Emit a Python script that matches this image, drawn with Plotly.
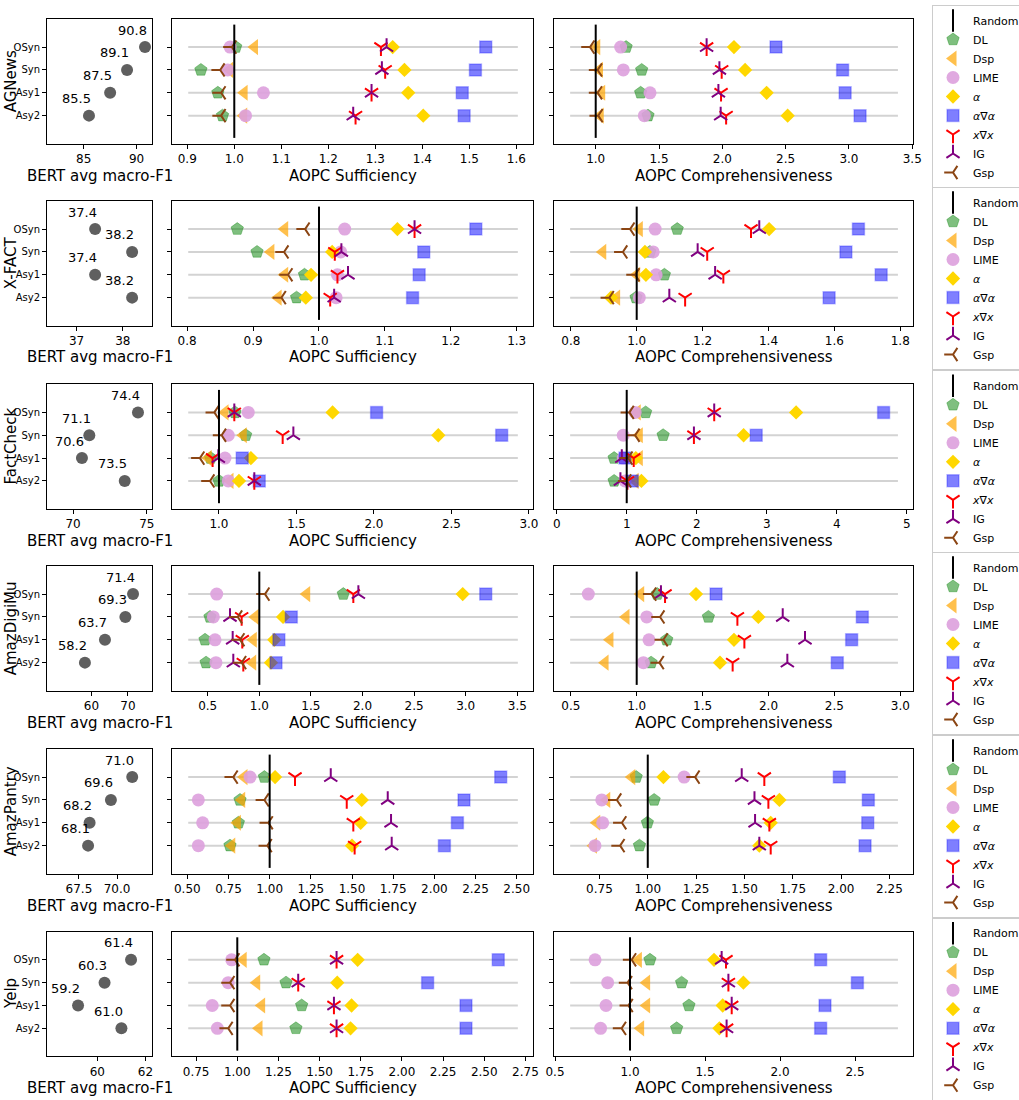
import plotly.graph_objects as go

# ---------------- data ----------------
DATASETS = ["AGNews", "X-FACT", "FactCheck", "AmazDigiMu", "AmazPantry", "Yelp"]
CONFIGS = ["OSyn", "Syn", "Asy1", "Asy2"]
METHODS = ["DL", "Dsp", "LIME", "α", "α∇α", "x∇x", "IG", "Gsp"]

F1_AGNEWS = [90.8, 89.1, 87.5, 85.5]
F1_XFACT = [37.4, 38.2, 37.4, 38.2]
F1_FACTCHECK = [74.4, 71.1, 70.6, 73.5]
F1_AMAZDIGIMU = [71.4, 69.3, 63.7, 58.2]
F1_AMAZPANTRY = [71.0, 69.6, 68.2, 68.1]
F1_YELP = [61.4, 60.3, 59.2, 61.0]

F1_TICKS = [[85, 90], [37, 38], [70, 75], [60, 70], [67.5, 70.0], [60, 62]]
F1_TICKTEXT = [["85", "90"], ["37", "38"], ["70", "75"], ["60", "70"], ["67.5", "70.0"], ["60", "62"]]

# values per method, order OSyn, Syn, Asy1, Asy2
AGNEWS_SUFF = {
    "DL": [1.003, 0.929, 0.965, 0.975], "Dsp": [1.043, 0.99, 1.021, 1.02],
    "LIME": [0.991, 0.986, 1.062, 1.024], "α": [1.337, 1.362, 1.370, 1.402],
    "α∇α": [1.535, 1.513, 1.485, 1.489], "x∇x": [1.312, 1.321, 1.292, 1.258],
    "IG": [1.324, 1.314, 1.292, 1.253], "Gsp": [0.995, 0.970, 0.972, 0.972]}
AGNEWS_COMP = {
    "DL": [1.24, 1.363, 1.355, 1.413], "Dsp": [1.008, 1.03, 1.047, 1.036],
    "LIME": [1.197, 1.218, 1.429, 1.384], "α": [2.092, 2.18, 2.35, 2.516],
    "α∇α": [2.424, 2.95, 2.97, 3.088], "x∇x": [1.876, 1.995, 1.99, 2.03],
    "IG": [1.876, 1.977, 1.969, 1.987], "Gsp": [0.955, 1.015, 1.015, 1.02]}
XFACT_SUFF = {
    "DL": [0.876, 0.906, 0.978, 0.966], "Dsp": [0.948, 0.927, 0.948, 0.938],
    "LIME": [1.039, 1.033, 1.028, 1.026], "α": [1.119, 1.020, 0.988, 0.980],
    "α∇α": [1.238, 1.159, 1.152, 1.142], "x∇x": [1.145, 1.024, 1.028, 1.017],
    "IG": [1.145, 1.034, 1.044, 1.023], "Gsp": [0.979, 0.947, 0.953, 0.943]}
XFACT_COMP = {
    "DL": [1.123, 1.04, 1.084, 0.998], "Dsp": [1.008, 0.897, 1.0, 0.939],
    "LIME": [1.056, 1.050, 1.059, 1.008], "α": [1.402, 1.025, 1.028, 0.922],
    "α∇α": [1.673, 1.635, 1.742, 1.584], "x∇x": [1.347, 1.214, 1.263, 1.147],
    "IG": [1.372, 1.185, 1.238, 1.099], "Gsp": [0.980, 0.958, 0.995, 0.917]}
FACTCHECK_SUFF = {
    "DL": [1.103, 1.172, 0.946, 1.0], "Dsp": [1.039, 1.157, 0.931, 1.071],
    "LIME": [1.189, 1.060, 1.039, 1.06], "α": [1.733, 2.415, 1.206, 1.129],
    "α∇α": [2.017, 2.824, 1.150, 1.260], "x∇x": [1.099, 1.411, 0.959, 1.228],
    "IG": [1.099, 1.480, 0.996, 1.228], "Gsp": [0.970, 1.017, 0.877, 0.942]}
FACTCHECK_COMP = {
    "DL": [1.27, 1.52, 0.82, 0.82], "Dsp": [1.15, 1.18, 1.18, 1.12],
    "LIME": [1.12, 0.95, 0.95, 0.976], "α": [3.42, 2.67, 1.13, 1.21],
    "α∇α": [4.67, 2.85, 0.976, 1.08], "x∇x": [2.25, 1.96, 1.10, 1.01],
    "IG": [2.25, 1.96, 0.93, 0.91], "Gsp": [1.038, 1.12, 1.02, 1.0]}
AMAZDIGIMU_SUFF = {
    "DL": [1.814, 0.522, 0.474, 0.484], "Dsp": [1.459, 0.961, 0.942, 0.936],
    "LIME": [0.587, 0.555, 0.571, 0.58], "α": [2.971, 1.230, 1.145, 1.113],
    "α∇α": [3.194, 1.310, 1.190, 1.162], "x∇x": [1.911, 0.829, 0.835, 0.845],
    "IG": [1.960, 0.716, 0.742, 0.748], "Gsp": [1.055, 0.791, 0.813, 0.829]}
AMAZDIGIMU_COMP = {
    "DL": [1.156, 1.544, 1.228, 1.109], "Dsp": [1.030, 0.919, 0.797, 0.760],
    "LIME": [0.633, 1.076, 1.093, 1.051], "α": [1.450, 1.923, 1.738, 1.632],
    "α∇α": [1.602, 2.712, 2.631, 2.522], "x∇x": [1.215, 1.764, 1.817, 1.728],
    "IG": [1.184, 2.108, 2.277, 2.143], "Gsp": [1.114, 1.177, 1.202, 1.172]}
AMAZPANTRY_SUFF = {
    "DL": [0.968, 0.820, 0.810, 0.759], "Dsp": [0.844, 0.830, 0.804, 0.770],
    "LIME": [0.881, 0.567, 0.593, 0.567], "α": [1.033, 1.559, 1.553, 1.500],
    "α∇α": [2.403, 2.180, 2.140, 2.061], "x∇x": [1.154, 1.468, 1.508, 1.516],
    "IG": [1.371, 1.717, 1.737, 1.741], "Gsp": [0.779, 0.968, 0.992, 0.986]}
AMAZPANTRY_COMP = {
    "DL": [0.94, 1.033, 0.998, 0.957], "Dsp": [0.917, 0.788, 0.736, 0.719],
    "LIME": [1.188, 0.762, 0.767, 0.727], "α": [1.081, 1.681, 1.636, 1.577],
    "α∇α": [1.991, 2.141, 2.138, 2.124], "x∇x": [1.603, 1.624, 1.629, 1.636],
    "IG": [1.486, 1.552, 1.555, 1.577], "Gsp": [1.245, 0.840, 0.866, 0.857]}
YELP_SUFF = {
    "DL": [1.162, 1.296, 1.391, 1.356], "Dsp": [1.036, 1.118, 1.148, 1.132],
    "LIME": [0.966, 0.945, 0.848, 0.879], "α": [1.731, 1.607, 1.694, 1.688],
    "α∇α": [2.585, 2.156, 2.389, 2.389], "x∇x": [1.603, 1.370, 1.587, 1.603],
    "IG": [1.603, 1.370, 1.587, 1.603], "Gsp": [0.986, 0.956, 0.956, 0.945]}
YELP_COMP = {
    "DL": [1.133, 1.344, 1.393, 1.311], "Dsp": [1.056, 1.111, 1.111, 1.071],
    "LIME": [0.767, 0.851, 0.84, 0.804], "α": [1.56, 1.756, 1.618, 1.596],
    "α∇α": [2.271, 2.516, 2.30, 2.271], "x∇x": [1.64, 1.656, 1.678, 1.644],
    "IG": [1.611, 1.656, 1.678, 1.644], "Gsp": [1.011, 0.984, 0.989, 0.944]}

F1_ALL = [F1_AGNEWS, F1_XFACT, F1_FACTCHECK, F1_AMAZDIGIMU, F1_AMAZPANTRY, F1_YELP]
SUFF_ALL = [AGNEWS_SUFF, XFACT_SUFF, FACTCHECK_SUFF, AMAZDIGIMU_SUFF, AMAZPANTRY_SUFF, YELP_SUFF]
COMP_ALL = [AGNEWS_COMP, XFACT_COMP, FACTCHECK_COMP, AMAZDIGIMU_COMP, AMAZPANTRY_COMP, YELP_COMP]

# ---------------- styling / layout ----------------
W, H = 1019, 1100
def px(x): return x / W
def py(y): return 1 - y / H

COLS = [(47, 152), (172, 533), (554, 913)]
ROW_TOPS = [19, 201, 384.3, 566, 749, 931.7]
ROW_H = 124.5

F1_RANGES = [[81.53, 91.46], [36.36, 38.63], [68.23, 75.35], [47.8, 76.6], [65.4, 72.3], [57.91, 62.27]]
SUFF_RANGES = [[0.8675, 1.6355], [0.777, 1.3247], [0.697, 3.026], [0.154, 3.652], [0.407, 2.599], [0.6035, 2.796]]
COMP_RANGES = [[0.6706, 3.506], [0.749, 1.8386], [-0.039, 5.09], [0.3725, 3.0964], [0.515, 2.372], [0.4933, 2.8867]]
SUFF_DTICK = [(0.1, ".1f"), (0.1, ".1f"), (0.5, ".1f"), (0.5, ".1f"), (0.25, ".2f"), (0.25, ".2f")]
COMP_DTICK = [(0.5, ".1f"), (0.2, ".1f"), (1, "d"), (0.5, ".1f"), (0.25, ".2f"), (0.5, ".1f")]

YPOS = [3, 2, 1, 0]
STYLE = {
    "DL": dict(symbol="pentagon", size=13, color="rgba(0,128,0,0.5)", line=dict(width=1, color="rgba(0,128,0,0.35)")),
    "Dsp": dict(symbol="triangle-left", size=14, color="rgba(255,165,0,0.7)", line=dict(width=0)),
    "LIME": dict(symbol="circle", size=13, color="rgba(221,160,221,0.9)", line=dict(width=0)),
    "α": dict(symbol="diamond", size=11, color="#FFD700", line=dict(width=0)),
    "α∇α": dict(symbol="square", size=12, color="rgba(0,0,255,0.5)", line=dict(width=1.5, color="rgba(0,0,255,0.25)")),
    "x∇x": dict(symbol="y-down", size=11, line=dict(width=2, color="red")),
    "IG": dict(symbol="y-up", size=11, line=dict(width=2, color="purple")),
    "Gsp": dict(symbol="y-left", size=11, line=dict(width=2, color="#8B4513")),
}
LABELS = {"DL": "DL", "Dsp": "Dsp", "LIME": "LIME", "α": "<i>α</i>", "α∇α": "<i>α</i>∇<i>α</i>",
          "x∇x": "<i>x</i>∇<i>x</i>", "IG": "IG", "Gsp": "Gsp"}

FONT = "DejaVu Sans"
fig = go.Figure()
layout = dict(width=W, height=H, margin=dict(l=0, r=0, t=0, b=0, autoexpand=False),
              paper_bgcolor="white", plot_bgcolor="white", font=dict(family=FONT, color="black"))
shapes, annotations = [], []
XTITLES = ["BERT avg macro-F1", "AOPC Sufficiency", "AOPC Comprehensiveness"]

for r in range(6):
    top = ROW_TOPS[r]
    bot = top + ROW_H
    legname = "legend" if r == 0 else f"legend{r + 1}"
    for c in range(3):
        k = r * 3 + c + 1
        xs = "" if k == 1 else str(k)
        xa, ya = "xaxis" + xs, "yaxis" + xs
        xr, yr = "x" + xs, "y" + xs
        xaxis = dict(domain=[px(COLS[c][0]), px(COLS[c][1])], anchor=yr, showline=True, mirror=True,
                     linecolor="black", linewidth=1, ticks="outside", ticklen=4, tickcolor="black",
                     showgrid=False, zeroline=False, tickfont=dict(size=12, family=FONT))
        yaxis = dict(domain=[py(bot), py(top)], anchor=xr, range=[-1.22, 4.23], showline=True, mirror=True,
                     linecolor="black", linewidth=1, ticks="outside", ticklen=4, tickcolor="black",
                     showgrid=False, zeroline=False, tickvals=YPOS, ticktext=CONFIGS,
                     showticklabels=(c == 0), tickfont=dict(size=10, family=FONT))
        if c == 0:
            xaxis.update(range=F1_RANGES[r], tickvals=F1_TICKS[r], ticktext=F1_TICKTEXT[r])
            vals = F1_ALL[r]
            fig.add_trace(go.Scatter(x=vals, y=YPOS, mode="markers", xaxis=xr, yaxis=yr, showlegend=False,
                                     marker=dict(symbol="circle", size=12, color="#5f5f5f")))
            for v, yv in zip(vals, YPOS):
                annotations.append(dict(x=v, y=yv, xref=xr, yref=yr, text=f"{v:.1f}", showarrow=False,
                                        xanchor="right", yanchor="middle", xshift=4, yshift=17,
                                        font=dict(size=13, family=FONT)))
        else:
            rng = SUFF_RANGES[r] if c == 1 else COMP_RANGES[r]
            dt, fmt = SUFF_DTICK[r] if c == 1 else COMP_DTICK[r]
            xaxis.update(range=rng, dtick=dt, tick0=0, tickformat=fmt)
            data = SUFF_ALL[r] if c == 1 else COMP_ALL[r]
            for yv in YPOS:
                shapes.append(dict(type="line", xref=xr + " domain", yref=yr, x0=0.045, x1=0.958,
                                   y0=yv, y1=yv, line=dict(color="#d3d3d3", width=2), layer="below"))
            shapes.append(dict(type="line", xref=xr, yref=yr + " domain", x0=1, x1=1, y0=0.045, y1=0.955,
                               line=dict(color="black", width=2), layer="above"))
            if c == 1:
                fig.add_trace(go.Scatter(x=[None], y=[None], mode="markers", xaxis=xr, yaxis=yr,
                                         name="Random", legend=legname,
                                         marker=dict(symbol="line-ns", size=16, line=dict(width=2, color="black"))))
            for m in METHODS:
                fig.add_trace(go.Scatter(x=data[m], y=YPOS, mode="markers", xaxis=xr, yaxis=yr,
                                         name=LABELS[m], legend=legname, showlegend=(c == 1),
                                         marker=STYLE[m]))
        layout[xa] = xaxis
        layout[ya] = yaxis
        annotations.append(dict(x=px((COLS[c][0] + COLS[c][1]) / 2), y=py(bot + 32), xref="paper", yref="paper",
                                text=XTITLES[c], showarrow=False, xanchor="center", yanchor="middle",
                                font=dict(size=15, family=FONT)))
    annotations.append(dict(x=px(11), y=py(top + ROW_H / 2), xref="paper", yref="paper", text=DATASETS[r],
                            textangle=-90, showarrow=False, xanchor="center", yanchor="middle",
                            font=dict(size=15, family=FONT)))
    layout[legname] = dict(x=px(932), y=py(top - 14), xanchor="left", yanchor="top", bgcolor="white",
                           bordercolor="#cccccc", borderwidth=1, font=dict(size=11, family=FONT),
                           tracegroupgap=0, itemwidth=30)

layout["shapes"] = shapes
layout["annotations"] = annotations
fig.update_layout(**layout)
fig.write_html("out.html", config={"displayModeBar": False},
               post_script="document.body.style.margin='0';")
